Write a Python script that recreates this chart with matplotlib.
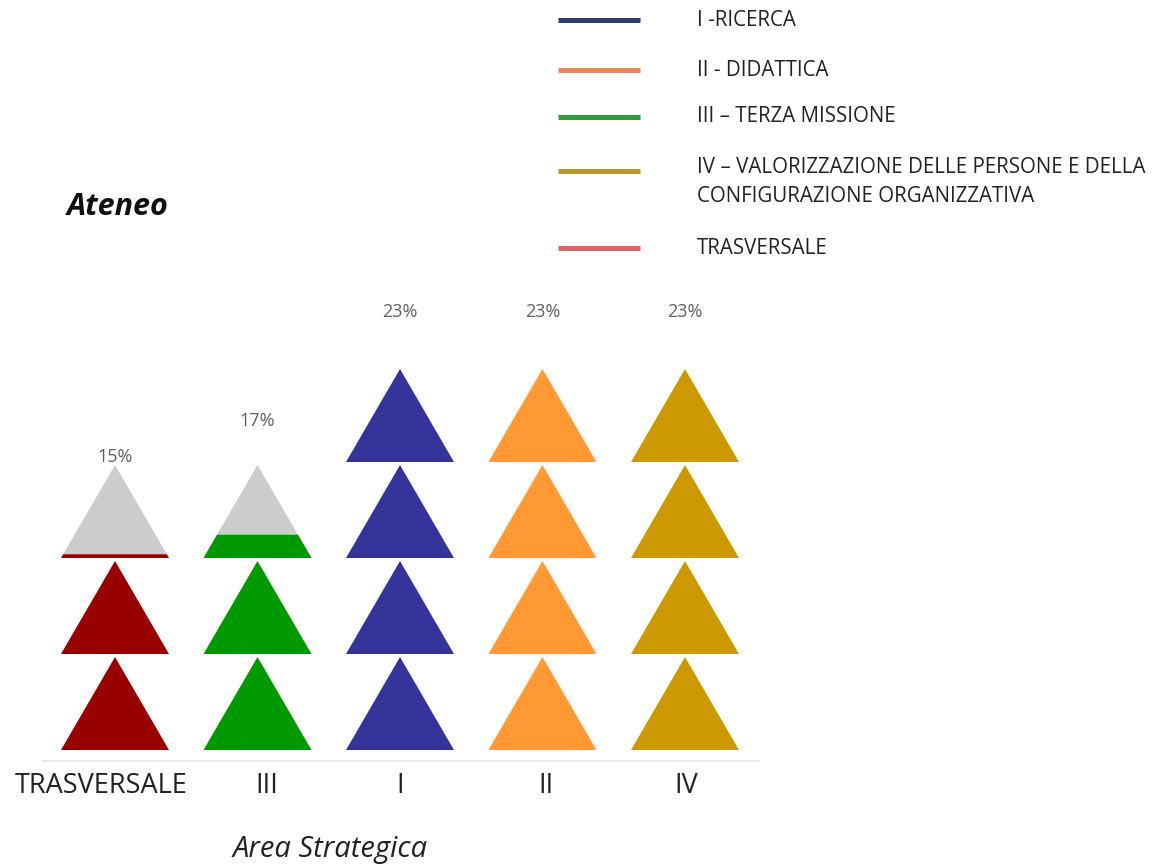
import matplotlib
matplotlib.use("Agg")
import matplotlib.pyplot as plt
import matplotlib.transforms as mtransforms
from matplotlib.patches import Polygon
from matplotlib.lines import Line2D

# ---- data ----
categories = ["TRASVERSALE", "III", "I", "II", "IV"]
percent_values = [15, 17, 23, 23, 23]
icons_filled = [2.04, 2.25, 4.0, 4.0, 4.0]   # filled icon units per column
icons_total = [3, 3, 4, 4, 4]                # icons drawn per column
bar_colors = ["#990000", "#009900", "#333399", "#FF9933", "#CC9900"]
empty_color = "#CCCCCC"

legend_labels = ["I -RICERCA", "II - DIDATTICA", "III \u2013 TERZA MISSIONE",
                 "IV \u2013 VALORIZZAZIONE DELLE PERSONE E DELLA\nCONFIGURAZIONE ORGANIZZATIVA",
                 "TRASVERSALE"]
legend_colors = ["#2E3A78", "#EE8455", "#2E9E3A", "#B8972E", "#E0606E"]

plt.rcParams['font.family'] = ['Open Sans', 'DejaVu Sans']

W, H = 1168, 867
fig = plt.figure(figsize=(W / 100, H / 100), dpi=100)

# main pictograph axes in px
ax_l, ax_r, ax_t, ax_b = 43, 758, 290, 761
ax = fig.add_axes([ax_l / W, 1 - ax_b / H, (ax_r - ax_l) / W, (ax_b - ax_t) / H])
unit_px = 96.0
col_px = 142.5
xmin = -(115 - ax_l) / col_px
ax.set_xlim(xmin, xmin + (ax_r - ax_l) / col_px)
ymin = -(ax_b - 750) / unit_px
ax.set_ylim(ymin, ymin + (ax_b - ax_t) / unit_px)

tri_h = 93 / 96
tri_w = 108 / col_px

def tri(cx, y0, f=1.0):
    hw = tri_w / 2
    if f >= 1.0:
        return [(cx - hw, y0), (cx + hw, y0), (cx, y0 + tri_h)]
    tw = hw * (1 - f)
    return [(cx - hw, y0), (cx + hw, y0), (cx + tw, y0 + f * tri_h), (cx - tw, y0 + f * tri_h)]

for i, (n, filled, col) in enumerate(zip(icons_total, icons_filled, bar_colors)):
    for k in range(n):
        rem = filled - k
        if rem >= 1:
            ax.add_patch(Polygon(tri(i, k), closed=True, fc=col, ec='none'))
        else:
            ax.add_patch(Polygon(tri(i, k), closed=True, fc=empty_color, ec='none'))
            if rem > 0:
                ax.add_patch(Polygon(tri(i, k, rem), closed=True, fc=col, ec='none'))

for i, v in enumerate(percent_values):
    ax.text(i, 0.215 + 0.189 * v, f"{v}%", ha='center', va='center',
            fontsize=13, color='#606060')

for s in ['top', 'right', 'left']:
    ax.spines[s].set_visible(False)
ax.spines['bottom'].set_color('#EBEBEB')
ax.spines['bottom'].set_linewidth(1.5)
ax.set_yticks([])
ax.set_xticks(range(len(categories)))
ax.set_xticklabels(categories, fontsize=19.5, color='#222222')
ax.tick_params(axis='x', length=0, pad=8)
label_shift_px = [-14, 9, 0, 3, 1]
for lbl, dx in zip(ax.get_xticklabels(), label_shift_px):
    lbl.set_transform(lbl.get_transform() +
                      mtransforms.ScaledTranslation(dx / 100, 0, fig.dpi_scale_trans))

# overlay for texts and legend in pixel coords
ov = fig.add_axes([0, 0, 1, 1], zorder=-1)
ov.set_xlim(0, W)
ov.set_ylim(H, 0)
ov.axis('off')

ov.text(330, 850, "Area Strategica", ha='center', va='center', fontsize=21,
        style='italic', color='#222222')
ov.text(67, 207, "Ateneo", ha='left', va='center', fontsize=22,
        style='italic', weight='bold', color='#111111')

legend_y = [20, 70, 117, 171, 248]
text_y = [20, 70, 117, 182, 248]
for lab, c, ly, ty in zip(legend_labels, legend_colors, legend_y, text_y):
    ov.add_line(Line2D([558, 640], [ly, ly], color=c, lw=3.6, solid_capstyle='butt'))
    ov.text(697, ty, lab, ha='left', va='center', fontsize=14.8, color='#222222',
            linespacing=1.5)

fig.savefig("out.png", dpi=100)
